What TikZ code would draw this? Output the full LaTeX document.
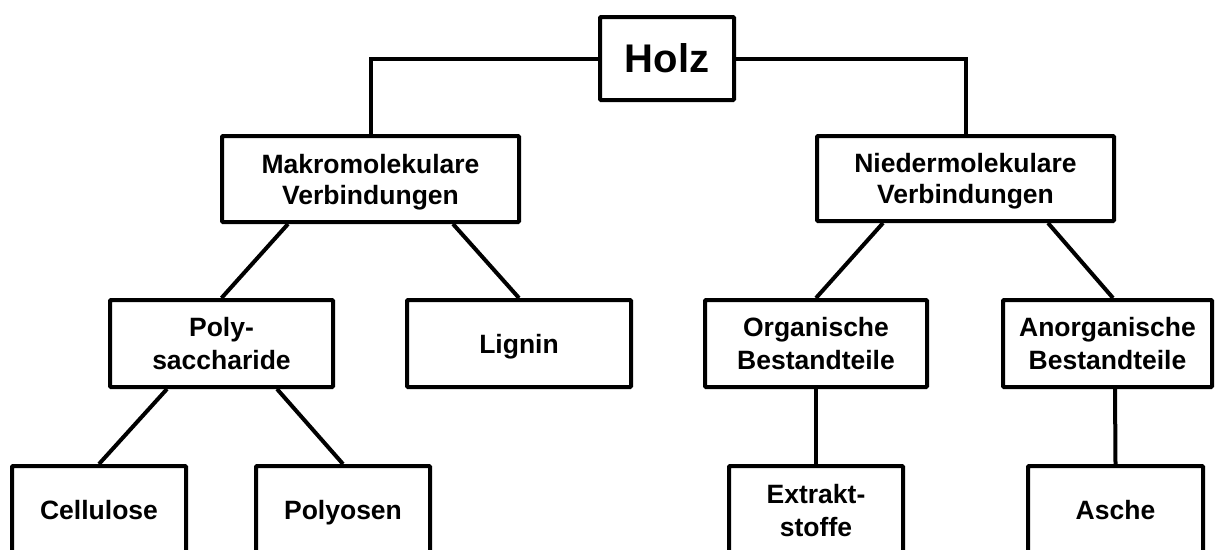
\documentclass[tikz,border=0pt]{standalone}
\usepackage{fontspec}
\setmainfont{Liberation Sans}
\usetikzlibrary{calc}

% invisible struts that give every text line the same height and depth
\newcommand\lnA{\rule[-6pt]{0pt}{31pt}}
\newcommand\lnB{\rule[-7pt]{0pt}{33pt}}
\newcommand\lnH{\rule[-6pt]{0pt}{40.6pt}}

\begin{document}
\begin{tikzpicture}[x=1pt,y=-1pt,
  box/.style={draw=black, line width=4pt, rounded corners=1pt, inner sep=0pt,
    align=center, text=black},
  txtA/.style={font=\fontsize{26.5}{31}\selectfont\bfseries},
  txtB/.style={font=\fontsize{26.5}{33}\selectfont\bfseries},
  txtH/.style={font=\fontsize{40}{46}\selectfont\bfseries},
  conn/.style={draw=black, line width=4pt}
]
\useasboundingbox (0,0) rectangle (1223,549);
\clip (0,0) rectangle (1223,549);

% root
\node[box, txtH, minimum width=134pt, minimum height=83pt] (holz) at (667,58.5) {\lnH Holz};

% first level
\node[box, txtA, minimum width=297pt, minimum height=86pt] (makro) at (370.5,179)
  {\lnA Makromolekulare\\\lnA Verbindungen};
\node[box, txtA, minimum width=297pt, minimum height=85pt] (nieder) at (965.5,178.5)
  {\lnA Niedermolekulare\\\lnA Verbindungen};

% second level
\node[box, txtB, minimum width=223pt, minimum height=87pt] (poly) at (221.5,343.5)
  {\lnB Poly-\\\lnB saccharide};
\node[box, txtB, minimum width=224pt, minimum height=87pt] (lignin) at (519,343.5)
  {\lnB Lignin};
\node[box, txtB, minimum width=222pt, minimum height=87pt] (organ) at (816,343.5)
  {\lnB Organische\\\lnB Bestandteile};
\node[box, txtB, minimum width=209pt, minimum height=87pt] (anorg) at (1107.5,343.5)
  {\lnB Anorganische\\\lnB Bestandteile};

% third level (running off the lower edge)
\node[box, txtB, minimum width=174pt, minimum height=88pt] (cell) at (99,510)
  {\lnB Cellulose};
\node[box, txtB, minimum width=174pt, minimum height=88pt] (polyo) at (343,510)
  {\lnB Polyosen};
\node[box, txtB, minimum width=174pt, minimum height=88pt] (extr) at (816,510)
  {\lnB Extrakt-\\\lnB stoffe};
\node[box, txtB, minimum width=175pt, minimum height=88pt] (asche) at (1115.5,510)
  {\lnB Asche};

% connectors
\draw[conn] (holz.west) -| (makro.north);
\draw[conn] (holz.east) -| (nieder.north);
\draw[conn] ($(makro.south)+(-82.5,0)$) -- (poly.north);
\draw[conn] ($(makro.south)+(82.5,0)$) -- (lignin.north);
\draw[conn] ($(nieder.south)+(-82.5,0)$) -- (organ.north);
\draw[conn] ($(nieder.south)+(82.5,0)$) -- ($(anorg.north)+(5.5,0)$);
\draw[conn] ($(poly.south)+(-54.5,0)$) -- (cell.north);
\draw[conn] ($(poly.south)+(55.5,0)$) -- (polyo.north);
\draw[conn] (organ.south) -- (extr.north);
\draw[conn] ($(anorg.south)+(7.5,0)$) -- (asche.north);
\end{tikzpicture}
\end{document}
